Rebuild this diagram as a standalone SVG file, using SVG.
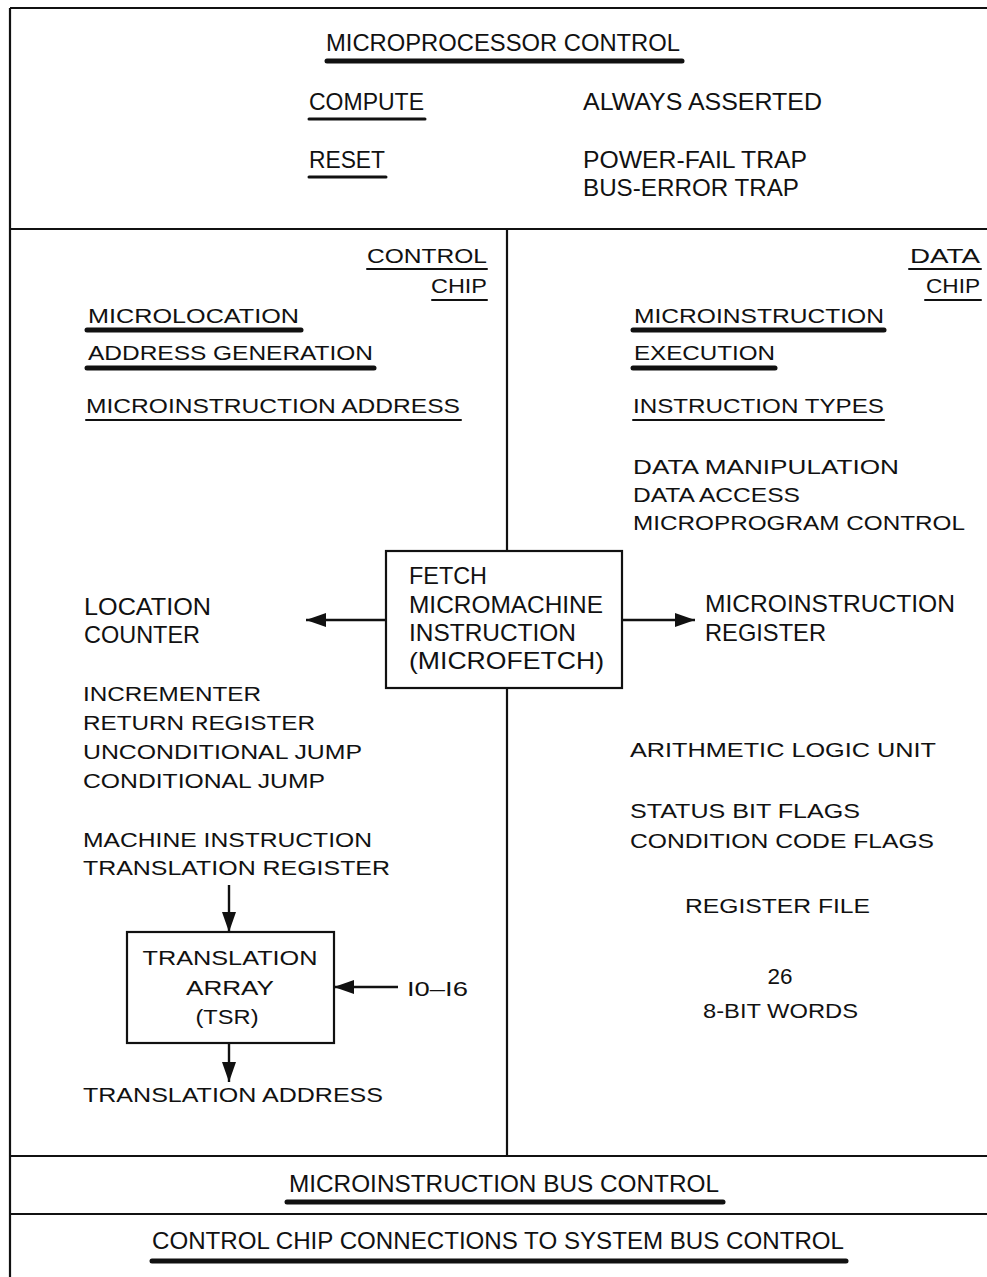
<svg xmlns="http://www.w3.org/2000/svg" width="987" height="1277" viewBox="0 0 987 1277">
<style>
text{font-family:"Liberation Sans",Arial,sans-serif;fill:#111}
.n{font-size:24px}
.w{font-size:20.5px}
.frame{stroke:#111;stroke-width:2.2;fill:none}
.ul{stroke:#111;stroke-width:2;stroke-linecap:round}
.ulm{stroke:#111;stroke-width:3;stroke-linecap:round}
.ulk{stroke:#111;stroke-width:5;stroke-linecap:round}
.box{fill:#fff;stroke:#111;stroke-width:2.2}
.con{stroke:#111;stroke-width:2.4;fill:none}
</style>
<defs>
<marker id="ah" viewBox="0 0 20 14" refX="20" refY="7" markerWidth="20" markerHeight="14" markerUnits="userSpaceOnUse" orient="auto">
<path d="M0,0 L20,7 L0,14 Z" fill="#111"/>
</marker>
</defs>
<rect width="987" height="1277" fill="#fff"/>
<g id="frame">
<line class="frame" x1="10" y1="8" x2="987" y2="8"/>
<line class="frame" x1="10" y1="8" x2="10" y2="1277"/>
<line class="frame" x1="10" y1="229" x2="987" y2="229"/>
<line class="frame" x1="507" y1="229" x2="507" y2="551"/>
<line class="frame" x1="507" y1="688" x2="507" y2="1156"/>
<line class="frame" x1="10" y1="1156" x2="987" y2="1156"/>
<line class="frame" x1="10" y1="1214" x2="987" y2="1214"/>
</g>
<g id="microprocessor-control">
<text class="n" x="326" y="51" textLength="354" lengthAdjust="spacingAndGlyphs">MICROPROCESSOR CONTROL</text>
<line class="ulk" x1="327" y1="61" x2="682" y2="61"/>
<text class="n" x="309" y="110" textLength="115" lengthAdjust="spacingAndGlyphs">COMPUTE</text>
<line class="ulm" x1="309" y1="119" x2="425" y2="119"/>
<text class="n" x="583" y="110" textLength="239" lengthAdjust="spacingAndGlyphs">ALWAYS ASSERTED</text>
<text class="n" x="309" y="168" textLength="76" lengthAdjust="spacingAndGlyphs">RESET</text>
<line class="ulm" x1="309" y1="177" x2="386" y2="177"/>
<text class="n" x="583" y="168" textLength="224" lengthAdjust="spacingAndGlyphs">POWER-FAIL TRAP</text>
<text class="n" x="583" y="196" textLength="216" lengthAdjust="spacingAndGlyphs">BUS-ERROR TRAP</text>
</g>
<g id="control-chip">
<text class="w" x="367" y="263" textLength="120" lengthAdjust="spacingAndGlyphs">CONTROL</text>
<line class="ul" x1="367" y1="269" x2="487" y2="269"/>
<text class="w" x="431" y="293" textLength="56" lengthAdjust="spacingAndGlyphs">CHIP</text>
<line class="ul" x1="432" y1="300" x2="487" y2="300"/>
<text class="w" x="88" y="323" textLength="211" lengthAdjust="spacingAndGlyphs">MICROLOCATION</text>
<line class="ulk" x1="87" y1="330" x2="301" y2="330"/>
<text class="w" x="88" y="360" textLength="285" lengthAdjust="spacingAndGlyphs">ADDRESS GENERATION</text>
<line class="ulk" x1="87" y1="368" x2="374" y2="368"/>
<text class="w" x="86" y="413" textLength="374" lengthAdjust="spacingAndGlyphs">MICROINSTRUCTION ADDRESS</text>
<line class="ul" x1="86" y1="420" x2="461" y2="420"/>
</g>
<g id="data-chip">
<text class="w" x="910" y="263" textLength="70" lengthAdjust="spacingAndGlyphs">DATA</text>
<line class="ul" x1="909" y1="269" x2="981" y2="269"/>
<text class="w" x="926" y="293" textLength="54" lengthAdjust="spacingAndGlyphs">CHIP</text>
<line class="ul" x1="925" y1="300" x2="981" y2="300"/>
<text class="w" x="634" y="323" textLength="250" lengthAdjust="spacingAndGlyphs">MICROINSTRUCTION</text>
<line class="ulk" x1="633" y1="330" x2="884" y2="330"/>
<text class="w" x="634" y="360" textLength="141" lengthAdjust="spacingAndGlyphs">EXECUTION</text>
<line class="ulk" x1="633" y1="368" x2="775" y2="368"/>
<text class="w" x="633" y="413" textLength="251" lengthAdjust="spacingAndGlyphs">INSTRUCTION TYPES</text>
<line class="ul" x1="633" y1="420" x2="884" y2="420"/>
<text class="w" x="633" y="474" textLength="266" lengthAdjust="spacingAndGlyphs">DATA MANIPULATION</text>
<text class="w" x="633" y="502" textLength="167" lengthAdjust="spacingAndGlyphs">DATA ACCESS</text>
<text class="w" x="633" y="530" textLength="332" lengthAdjust="spacingAndGlyphs">MICROPROGRAM CONTROL</text>
</g>
<g id="fetch">
<rect class="box" x="386" y="551" width="236" height="137"/>
<text class="n" x="409" y="584" textLength="78" lengthAdjust="spacingAndGlyphs">FETCH</text>
<text class="n" x="409" y="613" textLength="194" lengthAdjust="spacingAndGlyphs">MICROMACHINE</text>
<text class="n" x="409" y="641" textLength="167" lengthAdjust="spacingAndGlyphs">INSTRUCTION</text>
<text class="n" x="409" y="669" textLength="195" lengthAdjust="spacingAndGlyphs">(MICROFETCH)</text>
</g>
<g id="location-counter">
<text class="n" x="84" y="615" textLength="127" lengthAdjust="spacingAndGlyphs">LOCATION</text>
<text class="n" x="84" y="643" textLength="116" lengthAdjust="spacingAndGlyphs">COUNTER</text>
</g>
<g id="microinstruction-register">
<text class="n" x="705" y="612" textLength="250" lengthAdjust="spacingAndGlyphs">MICROINSTRUCTION</text>
<text class="n" x="705" y="641" textLength="121" lengthAdjust="spacingAndGlyphs">REGISTER</text>
</g>
<g id="sequencer-list">
<text class="w" x="83" y="701" textLength="178" lengthAdjust="spacingAndGlyphs">INCREMENTER</text>
<text class="w" x="83" y="730" textLength="232" lengthAdjust="spacingAndGlyphs">RETURN REGISTER</text>
<text class="w" x="83" y="759" textLength="279" lengthAdjust="spacingAndGlyphs">UNCONDITIONAL JUMP</text>
<text class="w" x="83" y="788" textLength="242" lengthAdjust="spacingAndGlyphs">CONDITIONAL JUMP</text>
</g>
<g id="translation-register">
<text class="w" x="83" y="847" textLength="289" lengthAdjust="spacingAndGlyphs">MACHINE INSTRUCTION</text>
<text class="w" x="83" y="875" textLength="307" lengthAdjust="spacingAndGlyphs">TRANSLATION REGISTER</text>
</g>
<g id="translation-array">
<rect class="box" x="127" y="932" width="207" height="111"/>
<text class="w" x="230" y="965" text-anchor="middle" textLength="175" lengthAdjust="spacingAndGlyphs">TRANSLATION</text>
<text class="w" x="230" y="995" text-anchor="middle" textLength="88" lengthAdjust="spacingAndGlyphs">ARRAY</text>
<text class="w" x="227" y="1024" text-anchor="middle" textLength="63" lengthAdjust="spacingAndGlyphs">(TSR)</text>
</g>
<g id="i0-i6">
<text class="w" x="407" y="996" textLength="61" lengthAdjust="spacingAndGlyphs">I0–I6</text>
</g>
<g id="translation-address">
<text class="w" x="83" y="1102" textLength="300" lengthAdjust="spacingAndGlyphs">TRANSLATION ADDRESS</text>
</g>
<g id="alu">
<text class="w" x="630" y="757" textLength="306" lengthAdjust="spacingAndGlyphs">ARITHMETIC LOGIC UNIT</text>
<text class="w" x="630" y="818" textLength="230" lengthAdjust="spacingAndGlyphs">STATUS BIT FLAGS</text>
<text class="w" x="630" y="848" textLength="304" lengthAdjust="spacingAndGlyphs">CONDITION CODE FLAGS</text>
</g>
<g id="register-file">
<text class="w" x="685" y="913" textLength="185" lengthAdjust="spacingAndGlyphs">REGISTER FILE</text>
<text x="780" y="984" text-anchor="middle" style="font-size:22px" textLength="25" lengthAdjust="spacingAndGlyphs">26</text>
<text class="w" x="703" y="1018" textLength="155" lengthAdjust="spacingAndGlyphs">8-BIT WORDS</text>
</g>
<g id="bus-control">
<text class="n" x="289" y="1192" textLength="430" lengthAdjust="spacingAndGlyphs">MICROINSTRUCTION BUS CONTROL</text>
<line class="ulk" x1="287" y1="1202" x2="723" y2="1202"/>
<text class="n" x="152" y="1249" textLength="692" lengthAdjust="spacingAndGlyphs">CONTROL CHIP CONNECTIONS TO SYSTEM BUS CONTROL</text>
<line class="ulk" x1="152" y1="1261" x2="846" y2="1261"/>
</g>
<g id="connectors">
<line class="con" x1="386" y1="620" x2="306" y2="620" marker-end="url(#ah)"/>
<line class="con" x1="622" y1="620" x2="695" y2="620" marker-end="url(#ah)"/>
<line class="con" x1="229" y1="885" x2="229" y2="932" marker-end="url(#ah)"/>
<line class="con" x1="398" y1="987" x2="334" y2="987" marker-end="url(#ah)"/>
<line class="con" x1="229" y1="1043" x2="229" y2="1082" marker-end="url(#ah)"/>
</g>
</svg>
